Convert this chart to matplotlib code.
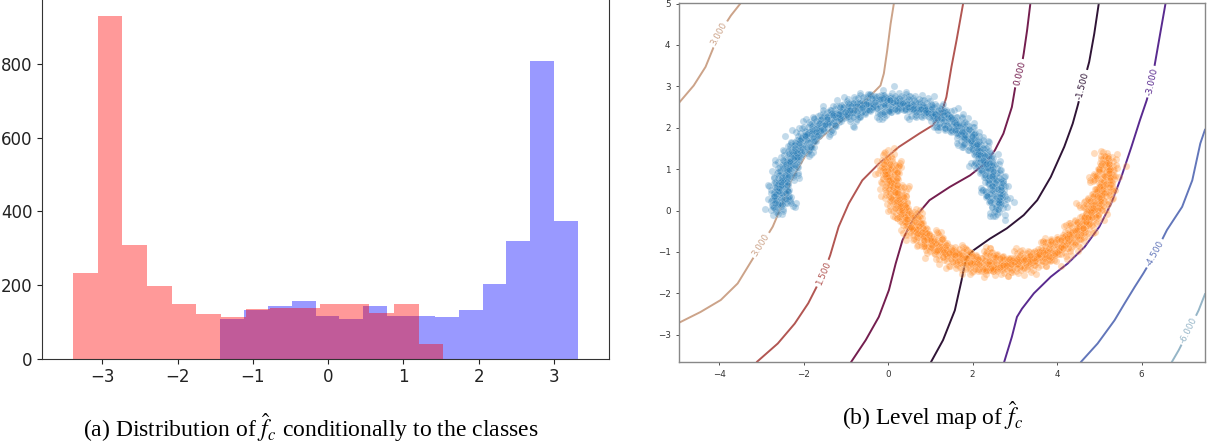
import numpy as np
import matplotlib
matplotlib.use("Agg")
import matplotlib.pyplot as plt

# ---- (a) histogram counts ----
red_range = (-3.391, 1.529)
red_counts = [233, 931, 310, 198, 148, 122, 112, 136, 139, 139, 148, 148, 125, 148, 40]
blue_range = (-1.435, 3.318)
blue_counts = [108, 131, 144, 157, 117, 108, 144, 117, 117, 112, 131, 203, 320, 809, 374]

# ---- (b) two moons (make_moons layout scaled by 2.6) ----
moon_scale = 2.6
moon_noise = 0.155
n_per_moon = 1100

# ---- (b) contour lines, vertices ----
c3a_x = [-4.95, -4.60, -4.32, -4.16, -4.00, -3.72, -3.48]
c3a_y = [2.60, 3.02, 3.47, 3.87, 4.27, 4.71, 5.02]
c3b_x = [-4.95, -4.44, -3.96, -3.56, -3.32, -3.20, -3.00, -2.73, -2.53, -2.29,
         -1.97, -1.65, -1.33, -0.93, -0.45, -0.18, -0.10, -0.02, 0.06, 0.14]
c3b_y = [-2.71, -2.45, -2.16, -1.76, -1.36, -1.16, -0.84, -0.39, 0.09, 0.73,
         1.30, 1.70, 1.98, 2.30, 2.74, 3.02, 3.31, 3.87, 4.51, 5.02]
c15_x = [-3.10, -2.61, -2.21, -1.89, -1.69, -1.53, -1.37, -1.17, -0.93, -0.61,
         -0.22, 0.26, 0.74, 1.06, 1.26, 1.38, 1.50, 1.62, 1.78]
c15_y = [-3.65, -3.21, -2.73, -2.24, -1.84, -1.52, -1.08, -0.39, 0.17, 0.73,
         1.13, 1.54, 1.86, 2.06, 2.34, 2.74, 3.47, 4.11, 5.02]
c0_x = [-0.87, -0.53, -0.22, 0.02, 0.18, 0.34, 0.58, 0.98, 1.46, 1.94, 2.29,
        2.53, 2.73, 2.93, 3.01, 3.13, 3.21, 3.29, 3.37]
c0_y = [-3.65, -3.13, -2.57, -1.92, -1.28, -0.72, -0.23, 0.25, 0.57, 0.85, 1.13,
        1.46, 1.86, 2.50, 2.98, 3.31, 3.79, 4.35, 5.02]
cm15_x = [1.02, 1.30, 1.58, 1.74, 1.84, 2.02, 2.41, 2.81, 3.21, 3.53, 3.85,
          4.17, 4.37, 4.49, 4.61, 4.76, 4.88, 4.99]
cm15_y = [-3.65, -3.13, -2.41, -1.68, -1.16, -0.96, -0.68, -0.43, -0.11, 0.25,
          0.81, 1.54, 2.10, 2.54, 3.02, 3.59, 4.27, 5.02]
cm3_x = [2.75, 2.93, 3.05, 3.17, 3.45, 3.85, 4.25, 4.65, 5.00, 5.28, 5.52,
         5.76, 5.96, 6.12, 6.24, 6.33, 6.44, 6.57]
cm3_y = [-3.65, -3.05, -2.57, -2.37, -2.00, -1.60, -1.28, -0.88, -0.39, 0.17,
         0.81, 1.54, 2.18, 2.66, 3.11, 3.63, 4.27, 5.02]
cm45_x = [4.57, 4.96, 5.36, 5.60, 5.84, 6.04, 6.32, 6.60, 6.96, 7.20, 7.39, 7.50]
cm45_y = [-3.65, -3.21, -2.65, -2.24, -1.84, -1.52, -1.04, -0.47, 0.09, 0.73,
          1.62, 1.95]
cm6_x = [6.72, 6.88, 7.12, 7.35, 7.50]
cm6_y = [-3.65, -3.37, -2.89, -2.41, -2.02]

contour_levels = [3.0, 3.0, 1.5, 0.0, -1.5, -3.0, -4.5, -6.0]
contour_xs = [c3a_x, c3b_x, c15_x, c0_x, cm15_x, cm3_x, cm45_x, cm6_x]
contour_ys = [c3a_y, c3b_y, c15_y, c0_y, cm15_y, cm3_y, cm45_y, cm6_y]

label_x = [-4.00, -3.00, -1.53, 3.13, 4.61, 6.24, 6.32, 7.12]
label_y = [4.27, -0.84, -1.52, 3.31, 3.02, 3.11, -1.04, -2.89]


plt.rcParams["mathtext.fontset"] = "stix"
fig = plt.figure(figsize=(12.07, 4.46), dpi=100)

# (a) ------------------------------------------------------------
ax1 = fig.add_axes([0.0348, 0.1957, 0.4698, 0.8073])
red_edges = np.linspace(*red_range, len(red_counts) + 1)
blue_edges = np.linspace(*blue_range, len(blue_counts) + 1)
ax1.hist(blue_edges[:-1], bins=blue_edges, weights=blue_counts, color="blue", alpha=0.4)
ax1.hist(red_edges[:-1], bins=red_edges, weights=red_counts, color="red", alpha=0.4)
ax1.set_xlim(-3.80, 3.73)
ax1.set_ylim(0, 977.5)
ax1.set_yticks([0, 200, 400, 600, 800])
ax1.set_xticks([-3, -2, -1, 0, 1, 2, 3])
ax1.tick_params(labelsize=12, colors="#222222")
for s in ax1.spines.values():
    s.set_color("#333333")

# (b) ------------------------------------------------------------
ax2 = fig.add_axes([0.5625, 1 - 361.7 / 446, 0.4358, (361.7 - 2.7) / 446])
ax2.set_xlim(-4.95, 7.5)
ax2.set_ylim(-3.65, 5.02)

cmap = plt.get_cmap("twilight")
for lev, xs, ys in zip(contour_levels, contour_xs, contour_ys):
    ax2.plot(xs, ys, color=cmap((lev + 7.5) / 12.0), lw=1.4, zorder=1,
             solid_joinstyle="round")

# moons: deterministic low-discrepancy spread around the arcs
k = np.arange(1, n_per_moon + 1)
u1 = (k * 0.6180339887) % 1
u2 = (k * 0.7548776662 + 0.1) % 1
u3 = (k * 0.5698402910 + 0.3) % 1
t = np.pi * u1
rad = np.sqrt(-2 * np.log(1 - 0.985 * u2))
gx, gy = rad * np.cos(2 * np.pi * u3), rad * np.sin(2 * np.pi * u3)
outer_x = moon_scale * np.cos(t) + moon_noise * gx
outer_y = moon_scale * np.sin(t) + moon_noise * gy
inner_x = moon_scale * (1 - np.cos(t[::-1])) + moon_noise * gy
inner_y = moon_scale * (0.5 - np.sin(t[::-1])) + moon_noise * gx
ax2.scatter(outer_x, outer_y, s=26, color="tab:blue", alpha=0.27, edgecolor="white", linewidth=0.4, zorder=2)
ax2.scatter(inner_x, inner_y, s=26, color="tab:orange", alpha=0.27, edgecolor="white", linewidth=0.4, zorder=2)

# contour labels, rotated along the line
fig.canvas.draw()
for lev, xs, ys, lx, ly in zip(contour_levels, contour_xs, contour_ys, label_x, label_y):
    pts = ax2.transData.transform(np.column_stack([xs, ys]))
    p = ax2.transData.transform((lx, ly))
    i = int(np.argmin(np.hypot(pts[:, 0] - p[0], pts[:, 1] - p[1])))
    i0, i1 = max(i - 1, 0), min(i + 1, len(xs) - 1)
    ang = np.degrees(np.arctan2(pts[i1, 1] - pts[i0, 1], pts[i1, 0] - pts[i0, 0]))
    if ang > 90:
        ang -= 180
    if ang < -90:
        ang += 180
    ax2.text(lx, ly, "%1.3f" % lev, rotation=ang, rotation_mode="anchor",
             ha="center", va="center", fontsize=6.3, color=cmap((lev + 7.5) / 12.0),
             bbox=dict(facecolor="white", edgecolor="none", pad=1.5), zorder=3)

ax2.set_xticks([-4, -2, 0, 2, 4, 6])
ax2.set_yticks([-3, -2, -1, 0, 1, 2, 3, 4, 5])
ax2.tick_params(labelsize=6.3, length=2.5, width=0.6, colors="#333333")
for s in ax2.spines.values():
    s.set_color("#888888")
    s.set_linewidth(1.0)

# captions
fig.text(311 / 1207, 1 - 428 / 446, r"(a) Distribution of $\hat{f}_c$ conditionally to the classes",
         ha="center", va="center", fontsize=17, family="Liberation Serif")
fig.text(933 / 1207, 1 - 416 / 446, r"(b) Level map of $\hat{f}_c$",
         ha="center", va="center", fontsize=17, family="Liberation Serif")

fig.savefig("out.png", dpi=100)
